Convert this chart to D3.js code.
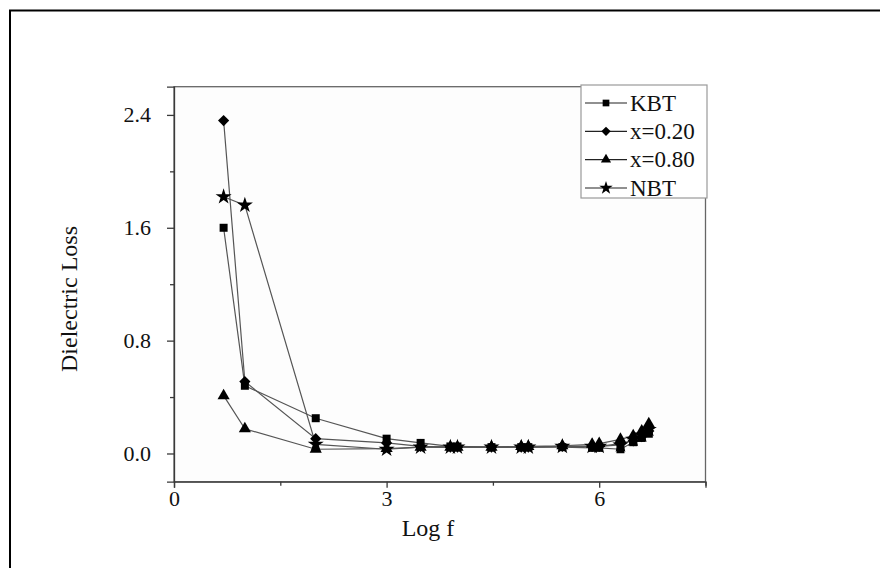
<!DOCTYPE html>
<html>
<head>
<meta charset="utf-8">
<script src="https://cdn.jsdelivr.net/npm/d3@7"></script>
<style>
  html, body { margin: 0; padding: 0; background: #fff; }
  svg text { font-family: "Liberation Serif", "Times New Roman", Times, serif; fill: #111; }
</style>
</head>
<body>
<div id="chart"></div>
<script>
const logF = [0.7, 1, 2, 3, 3.48, 3.9, 4, 4.48, 4.9, 5, 5.48, 5.9, 6, 6.3, 6.48, 6.6, 6.7];
const kbt  = [1.60, 0.48, 0.25, 0.105, 0.075, 0.05, 0.05, 0.045, 0.045, 0.045, 0.045, 0.04, 0.04, 0.03, 0.08, 0.11, 0.14];
const x020 = [2.36, 0.51, 0.105, 0.075, 0.05, 0.045, 0.045, 0.045, 0.045, 0.045, 0.05, 0.05, 0.05, 0.07, 0.09, 0.12, 0.16];
const x080 = [0.41, 0.175, 0.03, 0.035, 0.045, 0.045, 0.045, 0.045, 0.05, 0.05, 0.055, 0.065, 0.07, 0.10, 0.125, 0.16, 0.21];
const nbt  = [1.82, 1.76, 0.065, 0.03, 0.045, 0.045, 0.045, 0.045, 0.045, 0.045, 0.05, 0.05, 0.05, 0.06, 0.10, 0.13, 0.17];
const seriesNames = ['KBT', 'x=0.20', 'x=0.80', 'NBT'];
const xTicks = [0, 3, 6];
const xMinorTicks = [1.5, 4.5, 7.5];
const yTicks = [0, 0.8, 1.6, 2.4];
const yMinorTicks = [0.4, 1.2, 2.0];

const width = 880, height = 568;
const plot = {left: 174, right: 705.5, top: 86.7, bottom: 481.7};
const fontFamily = '"Liberation Serif", "Times New Roman", Times, serif';
const axisColor = '#3a3a3a';
const lineColor = '#555555';

const series = [
  {name: seriesNames[0], values: kbt,  symbol: d3.symbolSquare,   size: 64},
  {name: seriesNames[1], values: x020, symbol: d3.symbolDiamond2, size: 80},
  {name: seriesNames[2], values: x080, symbol: d3.symbolTriangle, size: 64},
  {name: seriesNames[3], values: nbt,  symbol: d3.symbolStar,     size: 80}
];

const svg = d3.select('#chart').append('svg')
  .attr('width', width)
  .attr('height', height);

// outer frame (only left/top edges fall inside the picture)
svg.append('path')
  .attr('d', `M10,${height + 5} V10.5 H${width + 5}`)
  .attr('fill', 'none')
  .attr('stroke', '#000')
  .attr('stroke-width', 2);

const xScale = d3.scaleLinear().domain([0, 7.5]).range([plot.left, plot.right]);
const yScale = d3.scaleLinear().domain([-0.2, 2.6]).range([plot.bottom, plot.top]);

// plot box
svg.append('rect')
  .attr('x', plot.left)
  .attr('y', plot.top)
  .attr('width', plot.right - plot.left)
  .attr('height', plot.bottom - plot.top)
  .attr('fill', '#fdfdfd')
  .attr('stroke', '#666')
  .attr('stroke-width', 1.3);

// x axis
svg.append('g')
  .attr('transform', `translate(0,${plot.bottom})`)
  .call(d3.axisBottom(xScale).tickValues(xTicks).tickSize(6).tickPadding(3).tickFormat(d3.format('d')));
svg.append('g')
  .attr('transform', `translate(0,${plot.bottom})`)
  .call(d3.axisBottom(xScale).tickValues(xMinorTicks).tickSize(4).tickFormat(''))
  .call(g => g.select('.domain').remove());

// y axis
svg.append('g')
  .attr('transform', `translate(${plot.left},0)`)
  .call(d3.axisLeft(yScale).tickValues(yTicks).tickSize(7).tickPadding(16).tickFormat(d3.format('.1f')));
svg.append('g')
  .attr('transform', `translate(${plot.left},0)`)
  .call(d3.axisLeft(yScale).tickValues(yMinorTicks).tickSize(4).tickFormat(''))
  .call(g => g.select('.domain').remove());

svg.selectAll('g').attr('font-family', null);
svg.selectAll('.domain, .tick line')
  .attr('stroke', axisColor)
  .attr('stroke-width', 1.3);
svg.selectAll('.tick text')
  .attr('font-size', 22)
  .attr('font-family', fontFamily)
  .attr('fill', '#111');

// axis titles
svg.append('text')
  .attr('x', 428)
  .attr('y', 536)
  .attr('text-anchor', 'middle')
  .attr('font-size', 24)
  .text('Log f');

svg.append('text')
  .attr('transform', 'translate(77,299) rotate(-90)')
  .attr('text-anchor', 'middle')
  .attr('font-size', 24)
  .text('Dielectric Loss');

// series lines
const line = d3.line()
  .x((d, i) => xScale(logF[i]))
  .y(d => yScale(d));

const seriesG = svg.append('g');
series.forEach(s => {
  seriesG.append('path')
    .datum(s.values)
    .attr('fill', 'none')
    .attr('stroke', lineColor)
    .attr('stroke-width', 1.2)
    .attr('d', line);
});
series.forEach(s => {
  seriesG.selectAll(null)
    .data(s.values)
    .join('path')
    .attr('transform', (d, i) => `translate(${xScale(logF[i])},${yScale(d)})`)
    .attr('d', d3.symbol().type(s.symbol).size(s.size))
    .attr('fill', '#000');
});

// legend
const legend = svg.append('g').attr('transform', 'translate(581,85)');
legend.append('rect')
  .attr('width', 126)
  .attr('height', 113)
  .attr('fill', '#fff')
  .attr('stroke', '#9a9a9a')
  .attr('stroke-width', 1.2);

const rowY = d3.scalePoint().domain(seriesNames).range([18, 103]);
const rows = legend.selectAll('g.row')
  .data(series)
  .join('g')
  .attr('class', 'row')
  .attr('transform', d => `translate(0,${rowY(d.name)})`);
rows.append('line')
  .attr('x1', 4).attr('x2', 46)
  .attr('stroke', '#222')
  .attr('stroke-width', 1.2);
rows.append('path')
  .attr('transform', 'translate(25,0)')
  .attr('d', d => d3.symbol().type(d.symbol).size(d.size * 0.7)())
  .attr('fill', '#000');
rows.append('text')
  .attr('x', 49)
  .attr('y', 7.5)
  .attr('font-size', 23)
  .text(d => d.name);
</script>
</body>
</html>
